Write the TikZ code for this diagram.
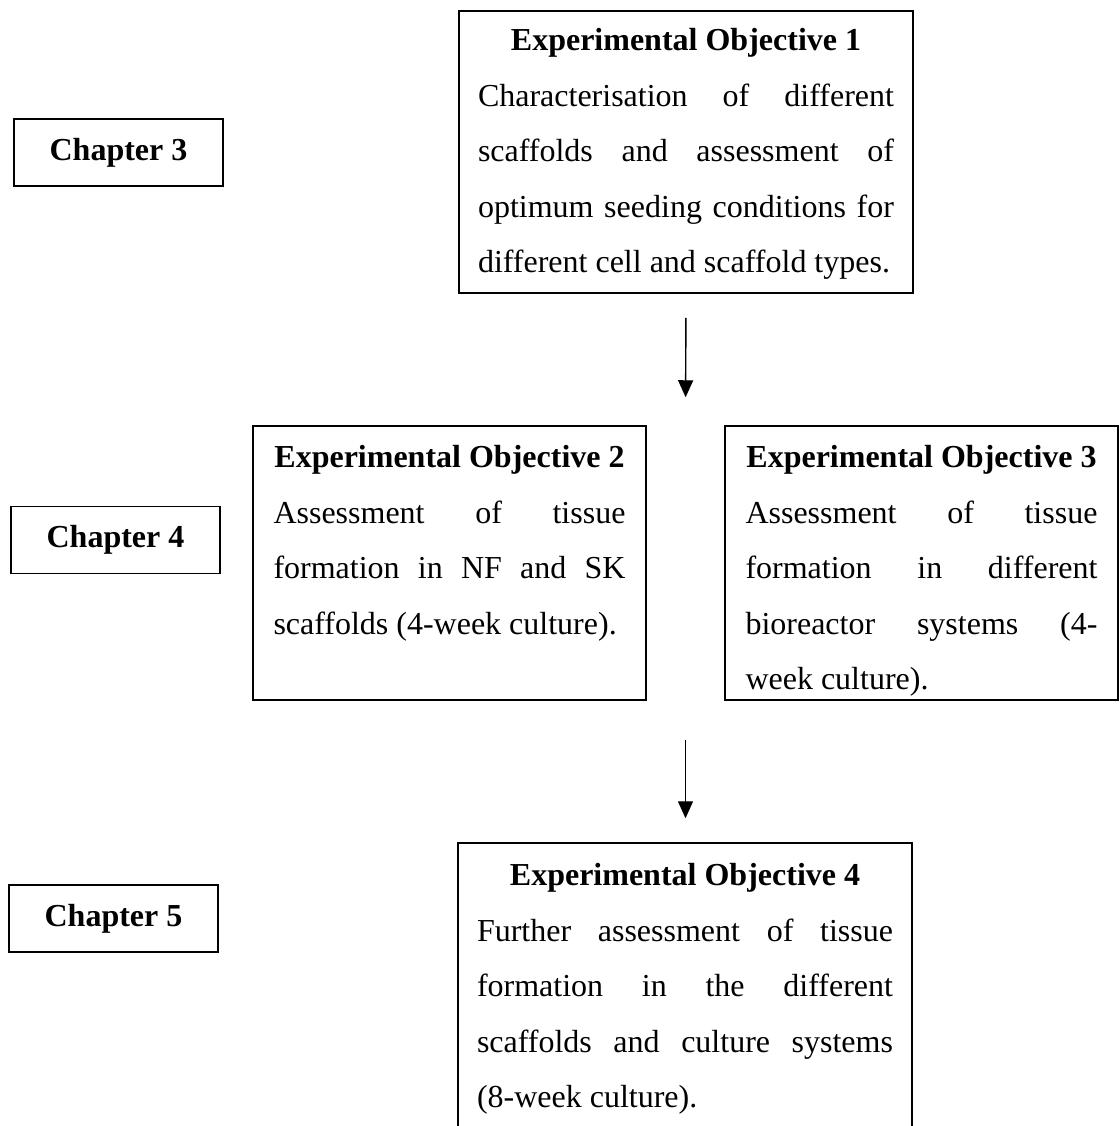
\documentclass[tikz,border=0pt]{standalone}
\usepackage{fontspec}
\setmainfont{Liberation Serif}
\usetikzlibrary{arrows.meta, calc}
\setlength{\parindent}{0pt}
\tolerance=10000
\hyphenpenalty=10000
\newcommand{\objtitle}[1]{\hfill\textbf{#1}\hfill\null\par}

\begin{document}
\begin{tikzpicture}[
        x=0.5pt, y=-0.5pt,
        chapbox/.style={draw, line width=0.75pt, inner sep=0pt, minimum width=104.5pt,
          minimum height=33.5pt, font=\fontsize{16}{20}\selectfont\bfseries},
        objbox/.style={draw, line width=0.75pt, inner sep=0pt},
        objtext/.style={inner sep=0pt, anchor=base, align=justify,
          font=\fontsize{16}{27.75}\selectfont},
        arr/.style={-{Triangle[width=7.5pt,length=8.5pt]}, line width=0.7pt}
      ]
        \useasboundingbox (0,0) rectangle (1120,1126);
        \clip (0,0) rectangle (1120,1126);

        \node[chapbox] (ch3) at (118.5,152.5) {Chapter 3};
        \node[chapbox] (ch4) at (115.5,540) {Chapter 4};
        \node[chapbox] (ch5) at (113.5,918.5) {Chapter 5};

        \node[objbox, minimum width=227pt, minimum height=141pt] (obj1) at (686,152) {};
        \node[objbox, minimum width=196.5pt, minimum height=137pt] (obj2) at (449.5,563) {};
        \node[objbox, minimum width=196.5pt, minimum height=137pt] (obj3) at (921.5,563) {};
        \node[objbox, minimum width=227pt, minimum height=158.5pt] (obj4) at (685,1001.5) {};

        \node[objtext, text width=208pt] (obj1txt) at (686,50.5)
          {\objtitle{Experimental Objective 1}Characterisation of different\linebreak
           scaffolds and assessment of\linebreak optimum seeding conditions for\linebreak
           different cell and scaffold types.};
        \node[objtext, text width=176pt] (obj2txt) at (449.5,467.5)
          {\objtitle{Experimental Objective 2}Assessment of tissue\linebreak
           formation in NF and SK\linebreak scaffolds (4-week culture).};
        \node[objtext, text width=176pt] (obj3txt) at (921.5,467.5)
          {\objtitle{Experimental Objective 3}Assessment of tissue\linebreak
           formation in different\linebreak bioreactor systems (4-\linebreak week culture).};
        \node[objtext, text width=208pt] (obj4txt) at (685,885.5)
          {\objtitle{Experimental Objective 4}Further assessment of tissue\linebreak
           formation in the different\linebreak scaffolds and culture systems\linebreak
           (8-week culture).};

        \coordinate (split) at ($(obj2.north east)!0.5!(obj3.north west)$);
        \coordinate (join) at ($(obj2.south east)!0.5!(obj3.south west)$);
        \draw[arr, shorten <=12pt, shorten >=14pt] (obj1.south) -- (split);
        \draw[arr, shorten <=19.5pt, shorten >=12pt] (join) -- (join |- obj4.north);
      \end{tikzpicture}
\end{document}
